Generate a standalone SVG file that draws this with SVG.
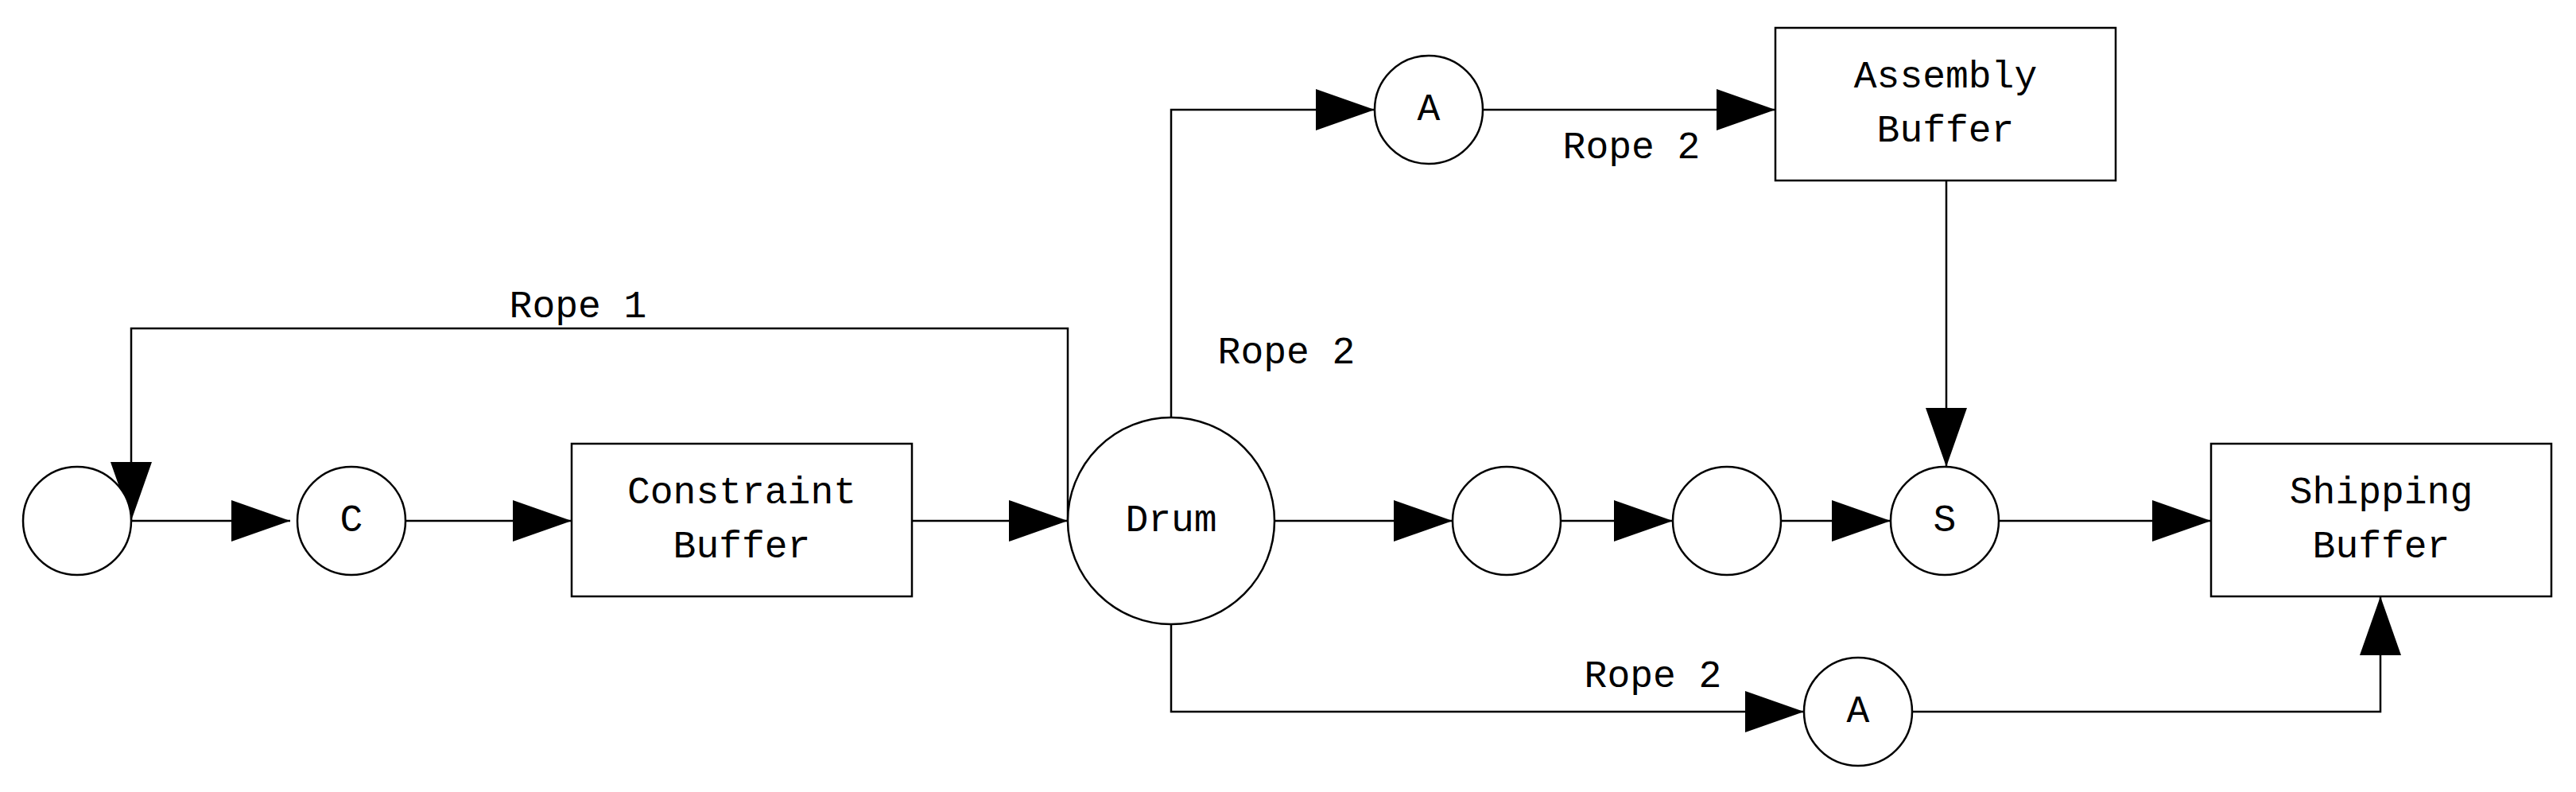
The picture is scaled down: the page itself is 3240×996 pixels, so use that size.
<svg xmlns="http://www.w3.org/2000/svg" width="3240" height="996" viewBox="0 0 3240 996">
<style>
.n{fill:#fff;stroke:#000;stroke-width:2.5}
.c{fill:none;stroke:#000;stroke-width:2.5}
text{font-family:"Liberation Mono",monospace;font-size:48px;fill:#000;text-anchor:middle;dominant-baseline:central}
</style>
<defs>
<marker id="ar" markerUnits="userSpaceOnUse" markerWidth="76" markerHeight="52" refX="74" refY="26" orient="auto">
<path d="M0,0 L74,26 L0,52 Z" fill="#000"/>
</marker>
</defs>
<rect width="3240" height="996" fill="#fff"/>
<g id="connectors">
<path class="c" d="M165,655 H365" marker-end="url(#ar)"/>
<path class="c" d="M510,655 H719" marker-end="url(#ar)"/>
<path class="c" d="M1147,655 H1343" marker-end="url(#ar)"/>
<path class="c" d="M1343,655 V413 H165 V655" marker-end="url(#ar)"/>
<path class="c" d="M1603,655 H1827" marker-end="url(#ar)"/>
<path class="c" d="M1963,655 H2104" marker-end="url(#ar)"/>
<path class="c" d="M2240,655 H2378" marker-end="url(#ar)"/>
<path class="c" d="M2514,655 H2781" marker-end="url(#ar)"/>
<path class="c" d="M1473,525 V138 H1729" marker-end="url(#ar)"/>
<path class="c" d="M1865,138 H2233" marker-end="url(#ar)"/>
<path class="c" d="M2448,227 V587" marker-end="url(#ar)"/>
<path class="c" d="M1473,785 V895 H2269" marker-end="url(#ar)"/>
<path class="c" d="M2405,895 H2994 V750" marker-end="url(#ar)"/>
<text x="727" y="386">Rope 1</text>
<text x="1618" y="444">Rope 2</text>
<text x="2052" y="186">Rope 2</text>
<text x="2079" y="851">Rope 2</text>
</g>
<g id="start"><circle class="n" cx="97" cy="655" r="68"/></g>
<g id="c"><circle class="n" cx="442" cy="655" r="68"/><text x="442" y="655">C</text></g>
<g id="constraint"><rect class="n" x="719" y="558" width="428" height="192"/><text x="933" y="620">Constraint</text><text x="933" y="688">Buffer</text></g>
<g id="drum"><circle class="n" cx="1473" cy="655" r="130"/><text x="1473" y="655">Drum</text></g>
<g id="p1"><circle class="n" cx="1895" cy="655" r="68"/></g>
<g id="p2"><circle class="n" cx="2172" cy="655" r="68"/></g>
<g id="s"><circle class="n" cx="2446" cy="655" r="68"/><text x="2446" y="655">S</text></g>
<g id="shipping"><rect class="n" x="2781" y="558" width="428" height="192"/><text x="2995" y="620">Shipping</text><text x="2995" y="688">Buffer</text></g>
<g id="a1"><circle class="n" cx="1797" cy="138" r="68"/><text x="1797" y="138">A</text></g>
<g id="assembly"><rect class="n" x="2233" y="35" width="428" height="192"/><text x="2447" y="97">Assembly</text><text x="2447" y="165">Buffer</text></g>
<g id="a2"><circle class="n" cx="2337" cy="895" r="68"/><text x="2337" y="895">A</text></g>
</svg>
